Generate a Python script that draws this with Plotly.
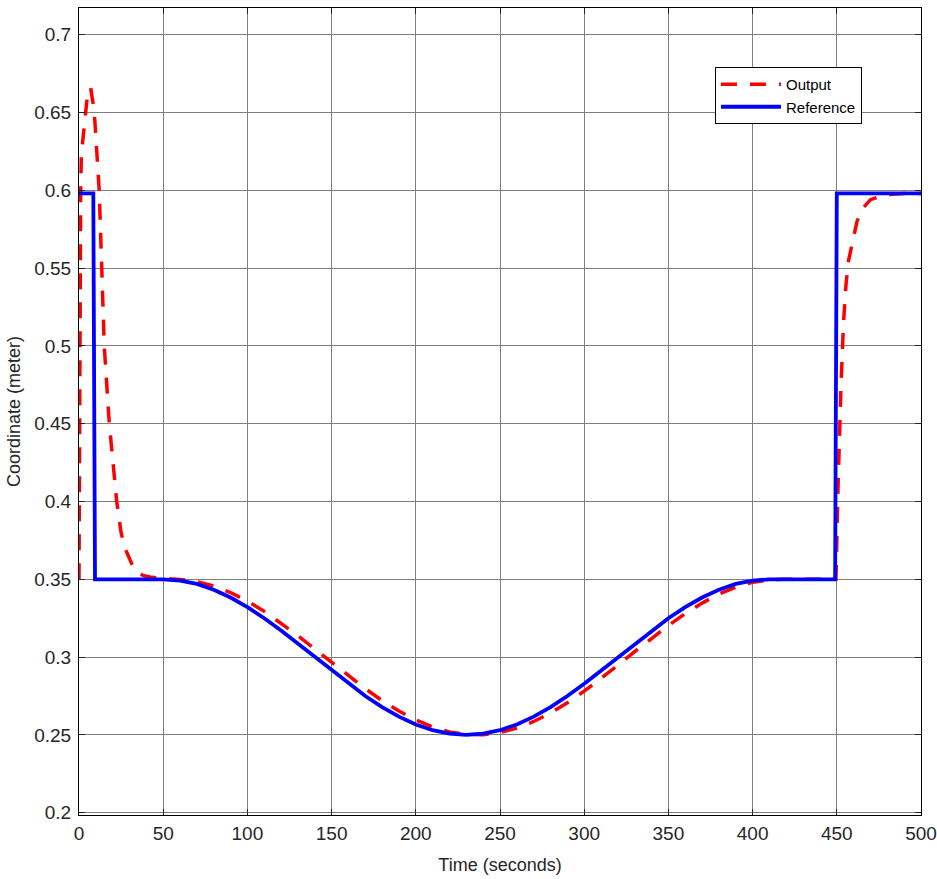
import plotly.graph_objects as go

# Reference trajectory
ref_t = [0, 8.5, 9.5, 50, 60, 70, 80, 90, 100, 110, 120, 130, 140, 150, 160, 170,
         180, 190, 200, 210, 220, 230, 240, 250, 260, 270, 280, 290, 300, 310,
         320, 330, 340, 350, 360, 370, 380, 390, 400, 410, 449, 450, 500]
ref_y = [0.598, 0.598, 0.35, 0.35, 0.3492, 0.3470, 0.3433, 0.3383, 0.3321,
         0.3250, 0.3171, 0.3087, 0.3000, 0.2913, 0.2829, 0.2750, 0.2679, 0.2617,
         0.2567, 0.2530, 0.2508, 0.2500, 0.2508, 0.2530, 0.2567, 0.2617, 0.2679,
         0.2750, 0.2829, 0.2913, 0.3000, 0.3087, 0.3171, 0.3250, 0.3321, 0.3383,
         0.3433, 0.3470, 0.3492, 0.35, 0.35, 0.598, 0.598]

# System output
out_t = [0, 0.3, 0.6, 1.0, 1.4, 2.5, 3.6, 4.9, 6.9, 8.5, 9.4, 10.5, 11.3, 12,
         13.5, 15, 18, 22.4, 25, 27.3, 31.3, 34, 38, 42, 50,
         60, 70, 80, 90, 100, 110, 120, 130, 140, 150, 160, 170, 180, 190, 200,
         210, 220, 230, 240, 250, 260, 270, 280, 290, 300, 310, 320, 330, 340,
         350, 360, 370, 380, 390, 400, 410, 420, 430, 440, 449.5,
         450.5, 451.5, 452.5, 454, 455.5, 457, 459.5, 462, 465, 470, 478, 490, 500]
out_y = [0.35, 0.45, 0.53, 0.60, 0.623, 0.636, 0.645, 0.660, 0.666, 0.655, 0.645,
         0.630, 0.612, 0.600, 0.550, 0.500, 0.450, 0.400, 0.380, 0.370, 0.360,
         0.355, 0.3525, 0.3515, 0.3505,
         0.3499, 0.3485, 0.3457, 0.3415, 0.3360, 0.3294, 0.3219, 0.3138, 0.3052,
         0.2965, 0.2879, 0.2797, 0.2720, 0.2653, 0.2596, 0.2551, 0.2519, 0.2503,
         0.2501, 0.2515, 0.2543, 0.2586, 0.2640, 0.2706, 0.2781, 0.2862, 0.2948,
         0.3035, 0.3121, 0.3203, 0.3280, 0.3347, 0.3405, 0.3449, 0.3481, 0.3497,
         0.3500, 0.3500, 0.3500, 0.3500,
         0.40, 0.44, 0.475, 0.515, 0.540, 0.555, 0.568, 0.580, 0.588, 0.594,
         0.597, 0.598, 0.598]

x_ticks = [0, 50, 100, 150, 200, 250, 300, 350, 400, 450, 500]
y_ticks = [0.2, 0.25, 0.3, 0.35, 0.4, 0.45, 0.5, 0.55, 0.6, 0.65, 0.7]
y_tick_text = ["0.2", "0.25", "0.3", "0.35", "0.4", "0.45", "0.5", "0.55", "0.6", "0.65", "0.7"]

FONT = "Liberation Sans, Arial, Helvetica, sans-serif"
TXT = "#262626"

fig = go.Figure()
fig.add_trace(go.Scatter(x=out_t, y=out_y, mode="lines", name="Output",
                         line=dict(color="#FF0000", width=3.5, dash="16px,13px")))
fig.add_trace(go.Scatter(x=ref_t, y=ref_y, mode="lines", name="Reference",
                         line=dict(color="#0000FF", width=3.8)))

axis_common = dict(showline=True, linecolor="black", linewidth=1, mirror="allticks",
                   ticks="inside", ticklen=6, tickcolor=TXT, automargin=False,
                   showgrid=True, gridcolor="#7f7f7f", gridwidth=1, zeroline=False,
                   tickfont=dict(family=FONT, size=19, color=TXT))

fig.update_xaxes(range=[0, 500], tickvals=x_ticks, ticklabelstandoff=1,
                 title=dict(text="Time (seconds)", font=dict(family=FONT, size=18, color=TXT),
                            standoff=15),
                 **axis_common)
fig.update_yaxes(range=[0.1985, 0.7172], tickvals=y_ticks, ticktext=y_tick_text,
                 ticklabelstandoff=3,
                 title=dict(text="Coordinate (meter)", font=dict(family=FONT, size=18, color=TXT),
                            standoff=8),
                 **axis_common)

fig.update_layout(
    width=937, height=879,
    margin=dict(l=79, r=16, t=8, b=64),
    paper_bgcolor="white", plot_bgcolor="white",
    font=dict(family=FONT, color=TXT),
    legend=dict(x=0.7553, y=0.9269, xanchor="left", yanchor="top",
                bgcolor="white", bordercolor="black", borderwidth=1,
                font=dict(family=FONT, size=15, color="black"),
                itemwidth=60, tracegroupgap=0),
    showlegend=True,
)

fig.write_html("out.html", config={"displayModeBar": False},
               post_script="document.body.style.margin='0px';document.body.style.overflow='hidden';")
